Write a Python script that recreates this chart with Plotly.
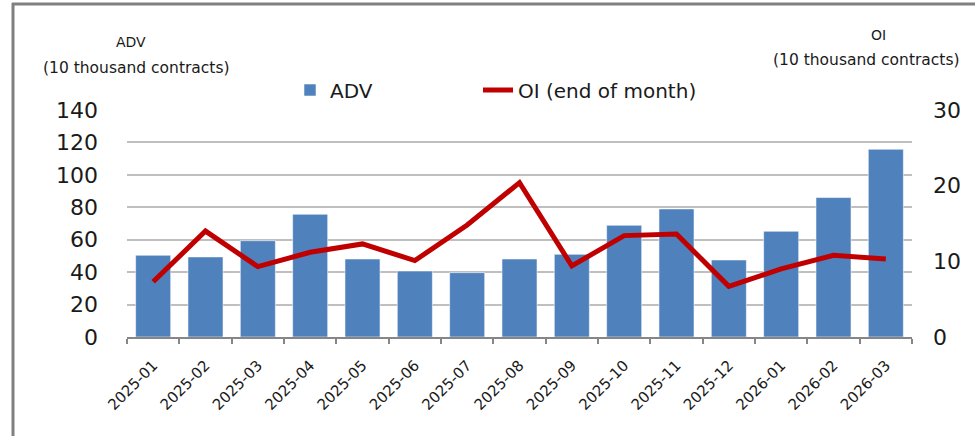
import plotly.graph_objects as go

months = ["2025-01", "2025-02", "2025-03", "2025-04", "2025-05", "2025-06", "2025-07",
          "2025-08", "2025-09", "2025-10", "2025-11", "2025-12", "2026-01", "2026-02", "2026-03"]
adv = [50.4, 49.4, 59.4, 75.7, 48.1, 40.7, 39.7, 48.1, 51.0, 68.9, 79.0, 47.5, 65.2, 86.0, 115.8]
oi = [7.3, 14.0, 9.3, 11.2, 12.3, 10.1, 14.8, 20.4, 9.4, 13.4, 13.6, 6.7, 9.0, 10.8, 10.3]
left_ticks = [0, 20, 40, 60, 80, 100, 120, 140]
right_ticks = [0, 10, 20, 30]

FONT = "DejaVu Sans"
W, H = 975, 436
L, R, T, B = 127, 63, 110, 99
PW, PH = W - L - R, H - T - B

def px_x(p):
    return (p - L) / PW

def px_y(p):
    return (H - B - p) / PH

fig = go.Figure()
fig.add_trace(go.Bar(
    x=months, y=adv, name="ADV",
    marker=dict(color="#4F81BD", line=dict(color="rgba(255,255,255,0.55)", width=1)),
    yaxis="y", legend="legend",
))
fig.add_trace(go.Scatter(
    x=months, y=oi, name="OI (end of month)", mode="lines",
    line=dict(color="#C00000", width=5),
    yaxis="y2", legend="legend2",
))

legend_common = dict(
    orientation="h", yanchor="middle", xanchor="left",
    font=dict(size=20, family=FONT, color="#1a1a1a"),
    bgcolor="rgba(0,0,0,0)",
)

fig.update_layout(
    width=W, height=H,
    margin=dict(l=L, r=R, t=T, b=B, pad=0),
    paper_bgcolor="white", plot_bgcolor="white",
    font=dict(family=FONT, color="#1a1a1a"),
    bargap=0.33,
    showlegend=True,
    legend=dict(x=px_x(290), y=px_y(90), **legend_common),
    legend2=dict(x=px_x(478), y=px_y(90), **legend_common),
    xaxis=dict(
        type="category", showgrid=False, showline=True, linecolor="#868686", linewidth=1.5,
        ticks="outside", tickson="boundaries", ticklen=5, tickcolor="#868686", tickwidth=1.5,
        tickangle=-45, ticklabelstandoff=12,
        tickfont=dict(size=15, family=FONT, color="#1a1a1a"),
    ),
    yaxis=dict(
        range=[0, 140], tickvals=left_ticks, showgrid=True, gridcolor="#BFBFBF", gridwidth=1.5,
        zeroline=False, showline=False, ticks="", ticklabelstandoff=28,
        tickfont=dict(size=22, family=FONT, color="#1a1a1a"),
    ),
    yaxis2=dict(
        range=[0, 30], tickvals=right_ticks, overlaying="y", side="right", showgrid=False,
        zeroline=False, showline=False, ticks="", ticklabelstandoff=20,
        tickfont=dict(size=22, family=FONT, color="#1a1a1a"),
    ),
    annotations=[
        dict(text="ADV", x=px_x(131), y=px_y(42), xref="paper", yref="paper",
             xanchor="center", yanchor="middle",
             showarrow=False, font=dict(size=14, family=FONT, color="#1a1a1a")),
        dict(text="(10 thousand contracts)", x=px_x(136), y=px_y(68), xref="paper", yref="paper",
             xanchor="center", yanchor="middle",
             showarrow=False, font=dict(size=15.5, family=FONT, color="#1a1a1a")),
        dict(text="OI", x=px_x(878), y=px_y(35), xref="paper", yref="paper",
             xanchor="center", yanchor="middle",
             showarrow=False, font=dict(size=14, family=FONT, color="#1a1a1a")),
        dict(text="(10 thousand contracts)", x=px_x(866), y=px_y(60), xref="paper", yref="paper",
             xanchor="center", yanchor="middle",
             showarrow=False, font=dict(size=15.5, family=FONT, color="#1a1a1a")),
    ],
    shapes=[
        dict(type="line", xref="paper", yref="paper", x0=px_x(12), x1=px_x(980),
             y0=px_y(4), y1=px_y(4), line=dict(color="#808080", width=3)),
        dict(type="line", xref="paper", yref="paper", x0=px_x(13), x1=px_x(13),
             y0=px_y(3), y1=px_y(440), line=dict(color="#808080", width=3)),
    ],
)

fig.write_html(
    "out.html",
    config={"displayModeBar": False},
    post_script="document.body.style.margin='0';document.body.style.overflow='hidden';",
)
